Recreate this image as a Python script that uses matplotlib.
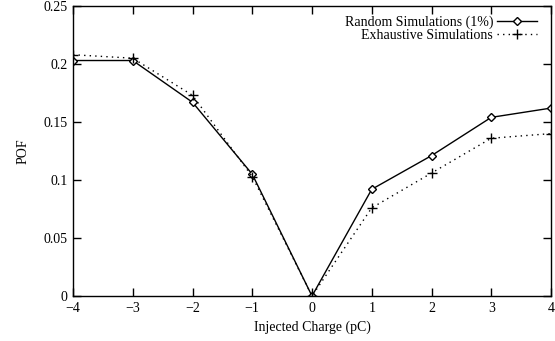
import matplotlib
matplotlib.use('Agg')
import matplotlib.pyplot as plt

# ── Data ──────────────────────────────────────────────────────────────────────
charge = [-4, -3, -2, -1, 0, 1, 2, 3, 4]
pof_random = [0.203, 0.203, 0.167, 0.105, 0.0, 0.092, 0.121, 0.154, 0.162]
pof_exhaustive = [0.208, 0.205, 0.173, 0.103, 0.0, 0.076, 0.106, 0.136, 0.140]

x_ticks = [-4, -3, -2, -1, 0, 1, 2, 3, 4]
y_ticks = [0, 0.05, 0.1, 0.15, 0.2, 0.25]
y_tick_labels = ['0', '0.05', '0.1', '0.15', '0.2', '0.25']

plt.rcParams['font.family'] = ['Liberation Serif', 'DejaVu Serif']
plt.rcParams['font.size'] = 10

W, H = 555, 341
fig = plt.figure(figsize=(W / 100, H / 100), dpi=100)
ax = fig.add_axes([73 / W, (H - 296) / H, (551 - 73) / W, (296 - 6) / H])

ax.plot(charge, pof_random, color='black', lw=1.0, marker='D', ms=4.5,
        mfc='white', mec='black', mew=1.0, label='Random Simulations (1%)')
ax.plot(charge, pof_exhaustive, color='black', lw=1.0, ls=(0, (1, 3)),
        marker='+', ms=7, mew=1.0, label='Exhaustive Simulations')

ax.set_xlim(-4, 4)
ax.set_ylim(0, 0.25)
ax.set_xticks(x_ticks)
ax.set_yticks(y_ticks)
ax.set_yticklabels(y_tick_labels)
ax.tick_params(direction='in', length=6, width=1, top=True, right=True, pad=4)
for s in ax.spines.values():
    s.set_linewidth(1.0)

ax.set_xlabel('Injected Charge (pC)', labelpad=4)
ax.set_ylabel('POF', labelpad=10)

ax.legend(loc='upper right', bbox_to_anchor=(0.982, 0.986), frameon=False,
          markerfirst=False, handlelength=2.9, handletextpad=0.25,
          labelspacing=0.0, borderaxespad=0.0, borderpad=0.4, fontsize=10)

fig.savefig('out.png', dpi=100)
